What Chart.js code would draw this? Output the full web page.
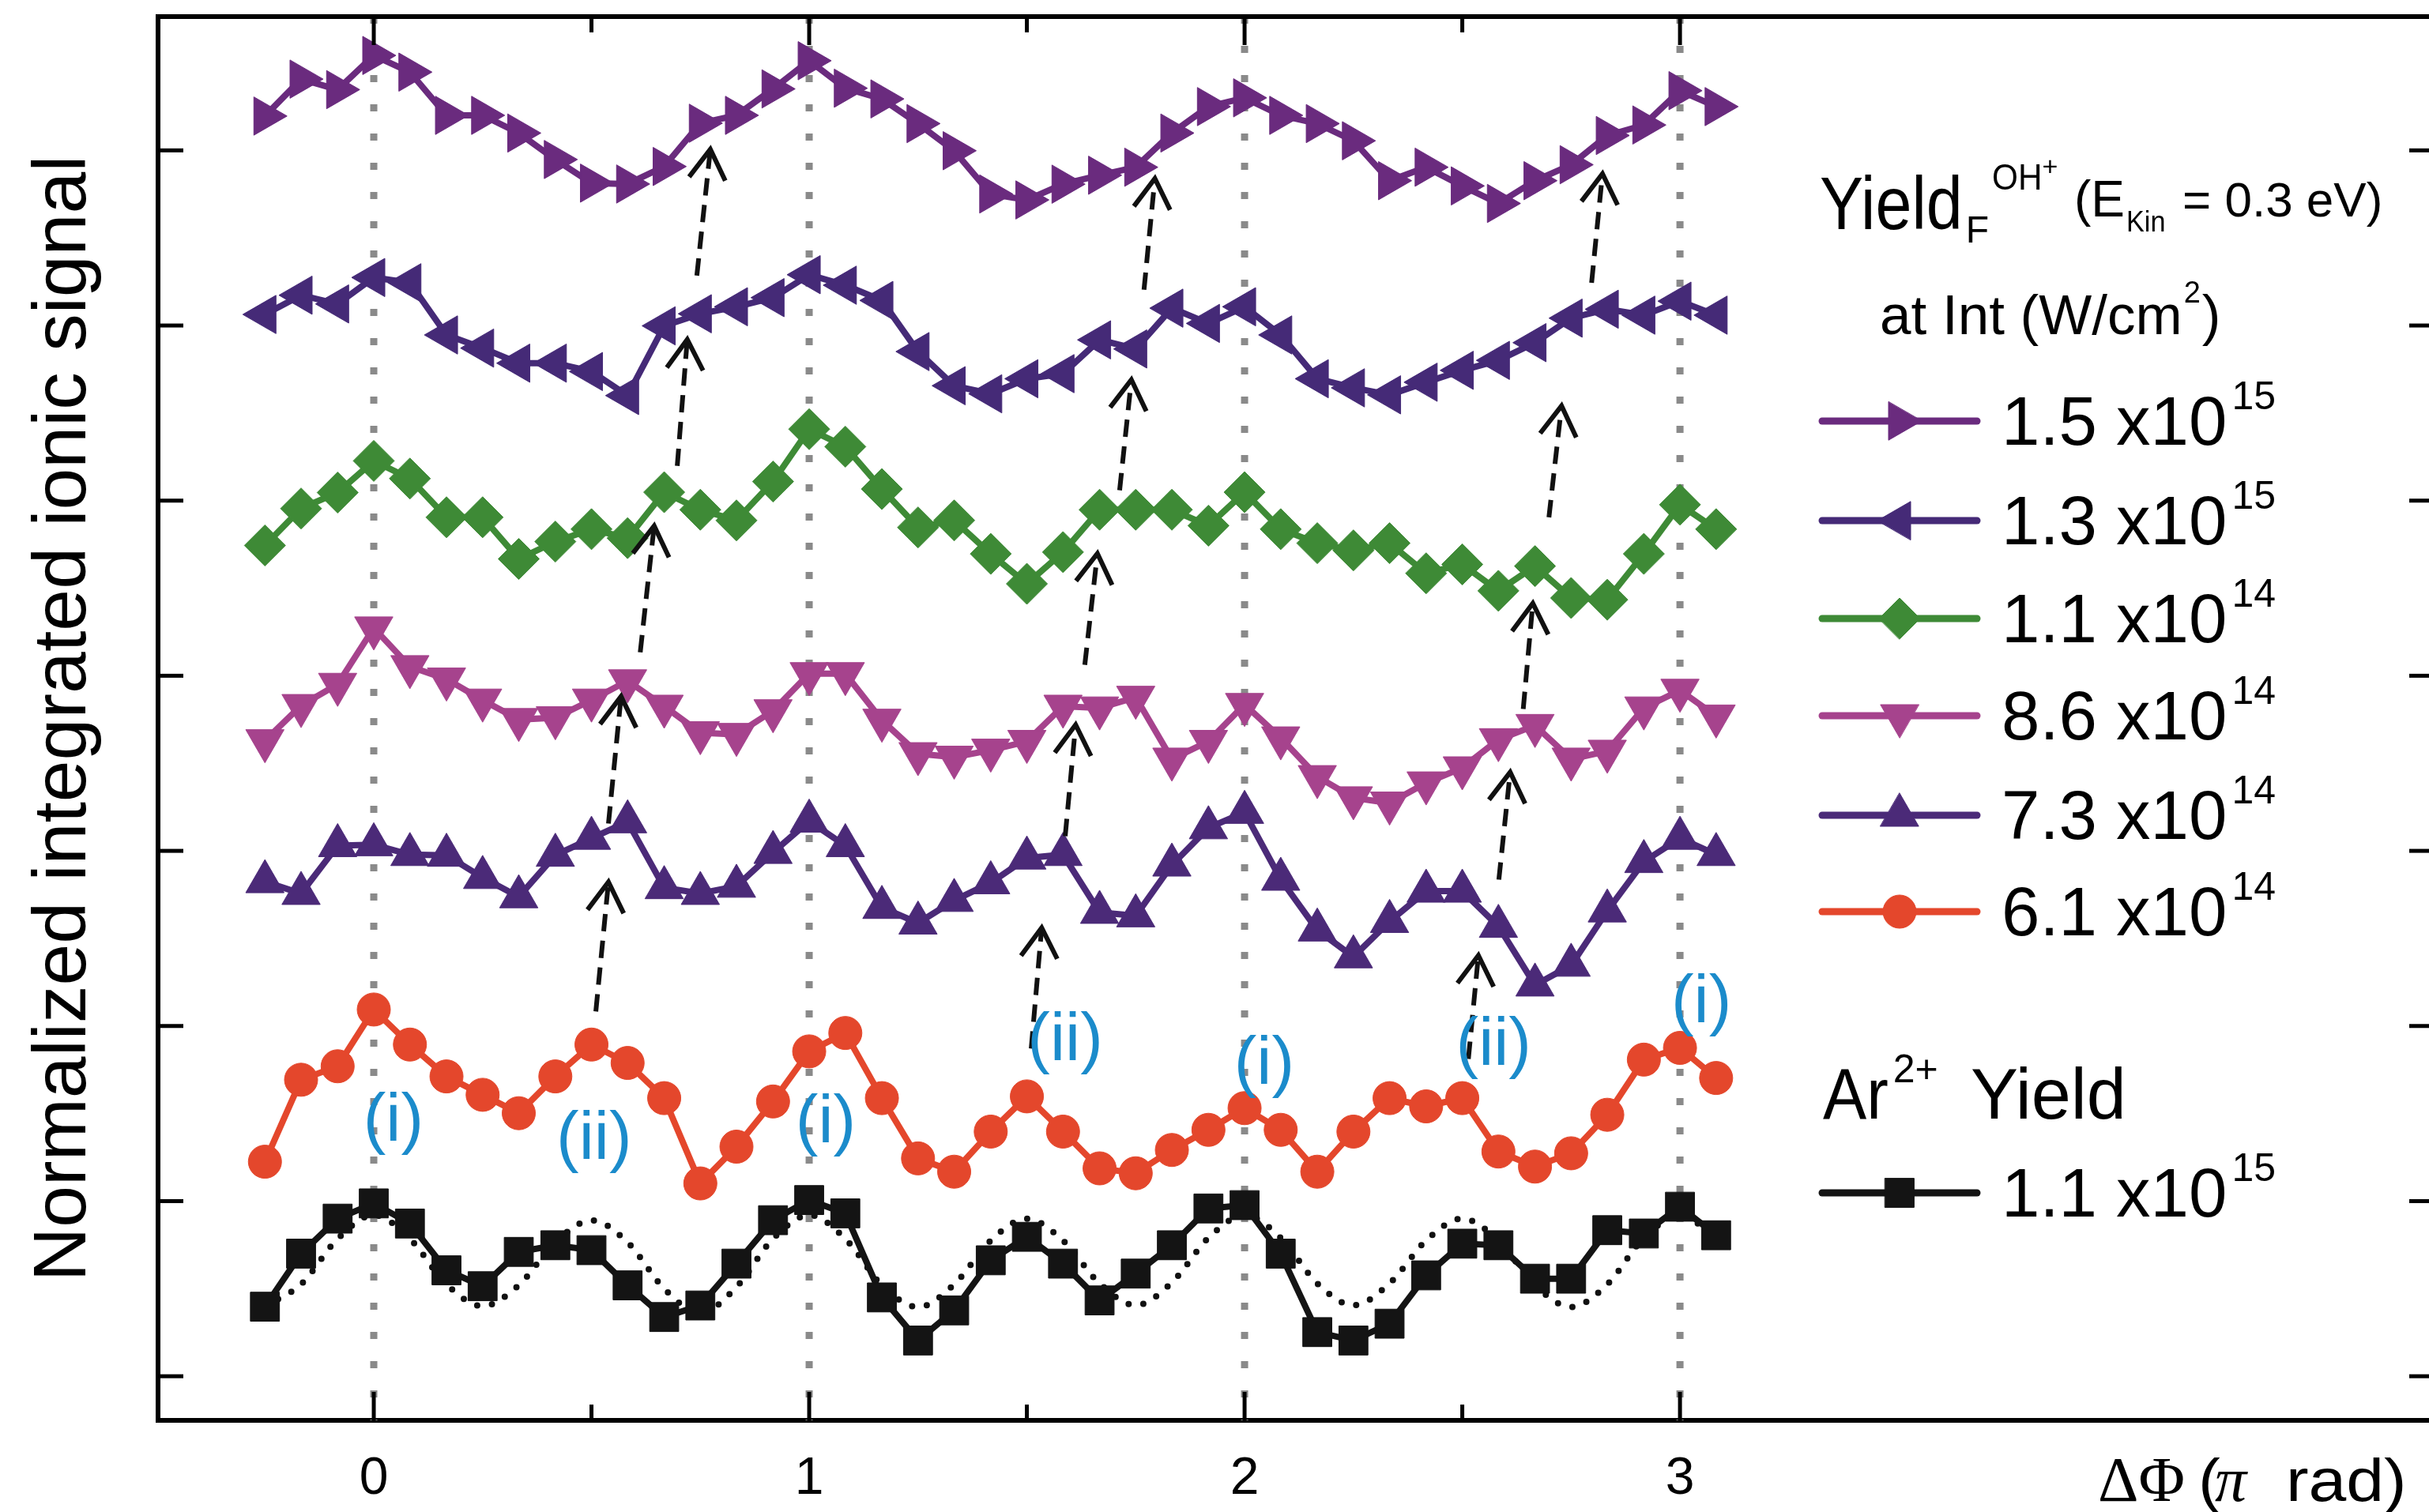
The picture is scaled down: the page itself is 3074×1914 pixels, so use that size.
<!DOCTYPE html>
<html>
<head>
<meta charset="utf-8">
<title>OH+ yield vs relative phase</title>
<script src="https://cdn.jsdelivr.net/npm/chart.js@4.4.1/dist/chart.umd.min.js"></script>
<style>
  html, body { margin: 0; padding: 0; overflow: hidden; background: #fff; }
  #wrap { position: absolute; left: 0; top: 0; width: 3084px; height: 1940px; }
</style>
</head>
<body>
<div id="wrap"><canvas id="phaseChart" width="3084" height="1940"></canvas></div>
<script>
// relative phase ΔΦ (units of π), one point every π/12
const phase = [-0.25, -0.167, -0.083, 0, 0.083, 0.167, 0.25, 0.333, 0.417, 0.5, 0.583, 0.667, 0.75, 0.833, 0.917,
  1, 1.083, 1.167, 1.25, 1.333, 1.417, 1.5, 1.583, 1.667, 1.75, 1.833, 1.917,
  2, 2.083, 2.167, 2.25, 2.333, 2.417, 2.5, 2.583, 2.667, 2.75, 2.833, 2.917, 3, 3.083];

// OH+ yield (stacked, arbitrary units) for each intensity
const oh15e15 = [7.196, 7.407, 7.347, 7.542, 7.447, 7.2, 7.2, 7.099, 6.948, 6.813, 6.808, 6.908, 7.155, 7.2, 7.351,
  7.512, 7.355, 7.294, 7.153, 6.998, 6.751, 6.717, 6.807, 6.858, 6.904, 7.099, 7.25,
  7.3, 7.2, 7.153, 7.055, 6.827, 6.904, 6.797, 6.697, 6.827, 6.918, 7.085, 7.145, 7.341, 7.25];
const oh13e15 = [6.063, 6.173, 6.123, 6.274, 6.244, 5.946, 5.871, 5.785, 5.785, 5.737, 5.6, 5.998, 6.067, 6.107, 6.159,
  6.29, 6.23, 6.143, 5.851, 5.656, 5.61, 5.696, 5.725, 5.918, 5.866, 6.099, 6.012,
  6.107, 5.946, 5.696, 5.644, 5.604, 5.676, 5.744, 5.801, 5.902, 6.042, 6.093, 6.059, 6.139, 6.059];
const oh11e14 = [4.744, 4.955, 5.046, 5.227, 5.126, 4.905, 4.905, 4.667, 4.766, 4.837, 4.786, 5.048, 4.948, 4.887, 5.109,
  5.408, 5.308, 5.066, 4.847, 4.887, 4.696, 4.525, 4.706, 4.948, 4.948, 4.948, 4.857,
  5.048, 4.837, 4.757, 4.716, 4.757, 4.585, 4.636, 4.485, 4.626, 4.444, 4.434, 4.696, 4.977, 4.837];
const oh86e14 = [3.629, 3.83, 3.951, 4.273, 4.052, 3.981, 3.861, 3.75, 3.76, 3.861, 3.971, 3.826, 3.675, 3.665, 3.8,
  4.012, 4.012, 3.746, 3.555, 3.535, 3.575, 3.625, 3.826, 3.816, 3.877, 3.524, 3.625,
  3.836, 3.645, 3.424, 3.303, 3.273, 3.388, 3.474, 3.635, 3.716, 3.524, 3.569, 3.816, 3.917, 3.77];
const oh73e14 = [2.824, 2.757, 3.03, 3.035, 2.979, 2.975, 2.848, 2.738, 2.975, 3.072, 3.166, 2.79, 2.757, 2.798, 2.991,
  3.17, 3.03, 2.677, 2.588, 2.717, 2.818, 2.959, 2.979, 2.649, 2.629, 2.919, 3.132,
  3.22, 2.838, 2.548, 2.395, 2.597, 2.77, 2.77, 2.569, 2.234, 2.347, 2.657, 2.939, 3.072, 2.979];
const oh61e14 = [1.225, 1.693, 1.77, 2.094, 1.894, 1.712, 1.607, 1.502, 1.712, 1.894, 1.789, 1.588, 1.101, 1.311, 1.569,
  1.855, 1.96, 1.588, 1.244, 1.168, 1.397, 1.598, 1.397, 1.187, 1.159, 1.292, 1.407,
  1.531, 1.407, 1.168, 1.397, 1.588, 1.541, 1.588, 1.283, 1.197, 1.273, 1.493, 1.808, 1.875, 1.703];

// Ar2+ yield and the dotted guide curve
const ar11e15 = [0.397, 0.7, 0.9, 0.987, 0.872, 0.605, 0.514, 0.71, 0.748, 0.72, 0.519, 0.338, 0.404, 0.643, 0.891,
  1.006, 0.93, 0.45, 0.204, 0.376, 0.662, 0.796, 0.643, 0.433, 0.586, 0.748, 0.958,
  0.977, 0.7, 0.252, 0.204, 0.3, 0.576, 0.757, 0.748, 0.557, 0.557, 0.834, 0.815, 0.968, 0.805];
const arGuide = [0.4, 0.525, 0.785, 0.92, 0.785, 0.525, 0.4, 0.52, 0.765, 0.89, 0.765, 0.5, 0.36, 0.51, 0.785,
  0.92, 0.785, 0.52, 0.395, 0.525, 0.775, 0.9, 0.775, 0.53, 0.405, 0.535, 0.79,
  0.92, 0.79, 0.53, 0.405, 0.53, 0.775, 0.9, 0.775, 0.52, 0.395, 0.525, 0.79, 0.92, 0.79];

const intensityLabels = ['1.5 x10', '1.3 x10', '1.1 x10', '8.6 x10', '7.3 x10', '6.1 x10'];
const intensityExp = ['15', '15', '14', '14', '14', '14'];
const arLabel = '1.1 x10';
const arExp = '15';

const xTickLabels = [0, 1, 2, 3];
const xTickMarks = [0, 0.5, 1, 1.5, 2, 2.5, 3];
const yTickMarks = [0, 1, 2, 3, 4, 5, 6, 7];
const guideLines = [0, 1, 2, 3];

// (i) / (ii) tags
const peakTagText = ['(i)', '(ii)', '(i)', '(ii)', '(i)', '(ii)', '(i)'];
const peakTagX = [0.045, 0.506, 1.038, 1.588, 2.045, 2.572, 3.049];
const peakTagY = [1.45, 1.35, 1.443, 1.912, 1.776, 1.885, 2.128];

// dashed arrows following the shift of the (ii) maximum
const arrowFrom = [[0.51, 2.083], [0.539, 3.156], [0.612, 4.134], [0.697, 5.198], [0.742, 6.285],
  [1.51, 1.871], [1.588, 3.084], [1.633, 4.062], [1.713, 5.059], [1.769, 6.204],
  [2.514, 1.812], [2.584, 2.836], [2.64, 3.81], [2.699, 4.905], [2.797, 6.244]];
const arrowTo = [[0.539, 2.822], [0.568, 3.882], [0.644, 4.856], [0.72, 5.92], [0.773, 7.006],
  [1.534, 2.561], [1.612, 3.72], [1.662, 4.698], [1.74, 5.69], [1.794, 6.839],
  [2.537, 2.403], [2.61, 3.449], [2.662, 4.414], [2.728, 5.541], [2.822, 6.867]];

const SANS = '"Liberation Sans", Arial, Helvetica, sans-serif';
const SERIF = '"Liberation Serif", "Times New Roman", serif';

function line(ctx, x0, y0, x1, y1) {
  ctx.beginPath();
  ctx.moveTo(x0, y0);
  ctx.lineTo(x1, y1);
  ctx.stroke();
}

// draw text, returns the x where it ends
function put(ctx, str, x, y, size, o = {}) {
  const sx = o.sx || 1;
  ctx.save();
  ctx.font = (o.style || '') + ' ' + size + 'px ' + (o.family || SANS);
  ctx.fillStyle = o.color || '#000';
  ctx.textAlign = o.align || 'left';
  ctx.textBaseline = o.base || 'alphabetic';
  ctx.translate(x, y);
  ctx.scale(sx, 1);
  ctx.fillText(str, 0, 0);
  const w = ctx.measureText(str).width * sx;
  ctx.restore();
  return x + w;
}

function series(label, values, color, style, rotation, radius) {
  return {
    label: label,
    data: phase.map((p, i) => ({ x: p, y: values[i] })),
    borderColor: color,
    backgroundColor: color,
    pointBackgroundColor: color,
    pointBorderColor: color,
    pointBorderWidth: 1,
    pointStyle: style,
    pointRotation: rotation,
    pointRadius: radius,
    borderWidth: 8,
    tension: 0
  };
}

const figurePlugin = {
  id: 'figure',
  beforeDatasetsDraw(chart) {
    const { ctx, chartArea: a, scales: { x } } = chart;
    ctx.save();
    ctx.strokeStyle = '#8a8a8a';
    ctx.lineWidth = 9;
    ctx.setLineDash([9, 28]);
    guideLines.forEach(v => {
      const px = x.getPixelForValue(v);
      line(ctx, px, a.top, px, a.bottom);
    });
    ctx.restore();
  },
  afterDatasetsDraw(chart) {
    const { ctx, scales: { x, y } } = chart;
    ctx.save();
    ctx.strokeStyle = '#111';
    ctx.lineWidth = 6;
    ctx.lineJoin = 'miter';
    arrowFrom.forEach((p, i) => {
      const x0 = x.getPixelForValue(p[0]), y0 = y.getPixelForValue(p[1]);
      const x1 = x.getPixelForValue(arrowTo[i][0]), y1 = y.getPixelForValue(arrowTo[i][1]);
      ctx.setLineDash([22, 12]);
      line(ctx, x0, y0, x1, y1);
      ctx.setLineDash([]);
      const ang = Math.atan2(y1 - y0, x1 - x0);
      ctx.beginPath();
      ctx.moveTo(x1 - 44 * Math.cos(ang - 0.55), y1 - 44 * Math.sin(ang - 0.55));
      ctx.lineTo(x1, y1);
      ctx.lineTo(x1 - 44 * Math.cos(ang + 0.55), y1 - 44 * Math.sin(ang + 0.55));
      ctx.stroke();
    });
    ctx.restore();
    peakTagText.forEach((t, i) => {
      put(ctx, t, x.getPixelForValue(peakTagX[i]), y.getPixelForValue(peakTagY[i]), 86,
        { color: '#1b8bcb', align: 'center', base: 'middle' });
    });
  },
  afterDraw(chart) {
    const { ctx, chartArea: a, scales: { x, y } } = chart;
    ctx.save();
    ctx.strokeStyle = '#000';
    ctx.lineWidth = 6;
    // top and right frame
    line(ctx, a.left - 3, a.top, a.right, a.top);
    line(ctx, a.right, a.top, a.right, a.bottom);
    // ticks pointing inwards
    ctx.lineWidth = 5;
    xTickMarks.forEach(v => {
      const px = x.getPixelForValue(v);
      const len = Number.isInteger(v) ? 36 : 20;
      line(ctx, px, a.bottom, px, a.bottom - len);
      line(ctx, px, a.top, px, a.top + len);
    });
    yTickMarks.forEach(v => {
      const py = y.getPixelForValue(v);
      line(ctx, a.left, py, a.left + 32, py);
      line(ctx, a.right, py, a.right - 32, py);
    });
    ctx.restore();

    // legend
    const rows = [533, 659, 783, 906, 1032, 1154, 1510];
    const labels = intensityLabels.concat([arLabel]);
    const exps = intensityExp.concat([arExp]);
    rows.forEach((ry, i) => {
      const ds = chart.data.datasets[i];
      ctx.save();
      ctx.strokeStyle = ds.borderColor;
      ctx.lineWidth = 9;
      ctx.lineCap = 'round';
      line(ctx, 2306, ry, 2502, ry);
      ctx.fillStyle = ds.pointBackgroundColor;
      ctx.lineWidth = 1;
      Chart.helpers.drawPoint(ctx, { pointStyle: ds.pointStyle, rotation: ds.pointRotation, radius: ds.pointRadius, borderWidth: 1 }, 2404, ry);
      ctx.restore();
      const end = put(ctx, labels[i], 2533, ry + 30, 87);
      put(ctx, exps[i], end + 6, ry - 15, 50);
    });

    let e = put(ctx, 'Yield', 2303, 290, 95, { sx: 0.87 });
    e = put(ctx, 'F', e + 4, 307, 48);
    e = put(ctx, 'OH', e + 4, 240, 46, { sx: 0.92 });
    put(ctx, '+', e, 222, 34);
    e = put(ctx, '(E', 2625, 274, 64);
    put(ctx, 'Kin', e + 2, 293, 36, { sx: 0.95 });
    put(ctx, '= 0.3 eV)', 2762, 274, 62);

    e = put(ctx, 'at Int (W/cm', 2379, 423, 71);
    e = put(ctx, '2', e + 2, 383, 38);
    put(ctx, ')', e + 2, 423, 71);

    e = put(ctx, 'Ar', 2307, 1416, 90, { sx: 0.92 });
    put(ctx, '2+', e + 6, 1370, 50);
    put(ctx, 'Yield', 2494, 1416, 90);

    // x axis title, bottom right
    put(ctx, 'ΔΦ', 2655, 1900, 80, { family: SERIF });
    put(ctx, '(', 2782, 1900, 76, { sx: 1.1 });
    put(ctx, 'π', 2803, 1900, 80, { family: SERIF, style: 'italic' });
    put(ctx, 'rad)', 2893, 1900, 76, { sx: 1.13 });
  }
};

const ctx = document.getElementById('phaseChart').getContext('2d');
new Chart(ctx, {
  type: 'line',
  data: {
    datasets: [
      series('1.5 x10^15', oh15e15, '#6a2b7e', 'triangle', 90, 28),
      series('1.3 x10^15', oh13e15, '#452a77', 'triangle', -90, 28),
      series('1.1 x10^14', oh11e14, '#3e8a36', 'rectRot', 0, 26),
      series('8.6 x10^14', oh86e14, '#a6438d', 'triangle', 180, 28),
      series('7.3 x10^14', oh73e14, '#4b2a78', 'triangle', 0, 28),
      series('6.1 x10^14', oh61e14, '#e4472c', 'circle', 0, 21),
      series('Ar2+ 1.1 x10^15', ar11e15, '#141414', 'rect', 0, 26),
      {
        label: 'guide',
        data: phase.map((p, i) => ({ x: p, y: arGuide[i] })),
        borderColor: '#111',
        borderWidth: 8,
        borderDash: [0, 19],
        borderCapStyle: 'round',
        pointRadius: 0,
        cubicInterpolationMode: 'monotone'
      }
    ]
  },
  options: {
    responsive: false,
    devicePixelRatio: 1,
    animation: false,
    events: [],
    layout: { autoPadding: false, padding: { top: 21, right: 3, left: 0, bottom: 0 } },
    plugins: { legend: { display: false }, tooltip: { enabled: false } },
    scales: {
      x: {
        type: 'linear',
        position: 'bottom',
        min: -0.4955,
        max: 4.733,
        grid: { display: false, drawTicks: false },
        border: { display: true, color: '#000', width: 6 },
        ticks: {
          color: '#000',
          font: { family: SANS, size: 66 },
          padding: 35,
          maxRotation: 0,
          autoSkip: false
        },
        afterBuildTicks: s => { s.ticks = xTickLabels.map(v => ({ value: v })); },
        afterFit: s => { s.height = 142; }
      },
      y: {
        type: 'linear',
        position: 'left',
        min: -0.252,
        max: 7.764,
        grid: { display: false, drawTicks: false },
        border: { display: true, color: '#000', width: 6 },
        ticks: { display: false },
        title: {
          display: true,
          text: 'Normalized integrated ionic signal',
          color: '#000',
          font: { family: SANS, size: 95, lineHeight: 1.2 },
          padding: { top: 25, bottom: 0 }
        },
        afterFit: s => { s.width = 200; }
      }
    }
  },
  plugins: [figurePlugin]
});
</script>
</body>
</html>
